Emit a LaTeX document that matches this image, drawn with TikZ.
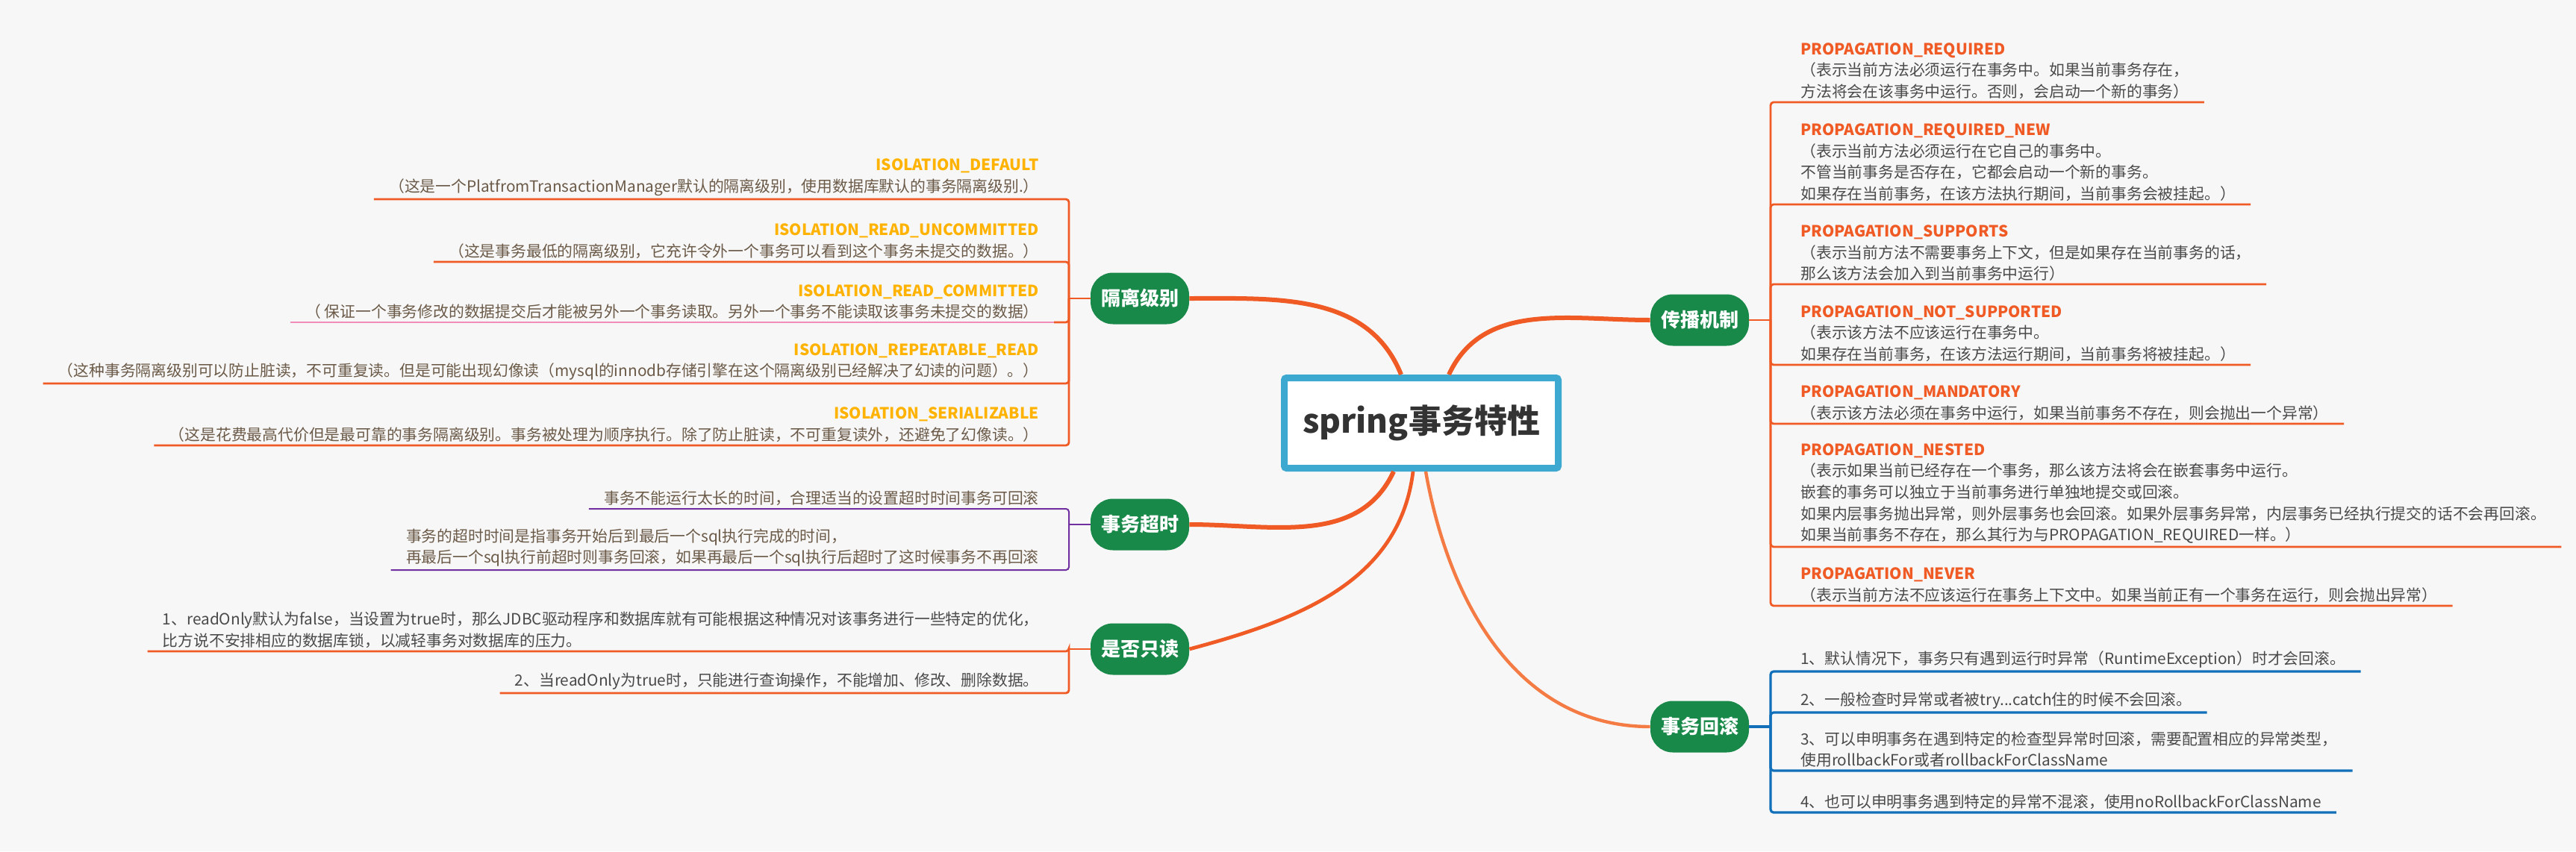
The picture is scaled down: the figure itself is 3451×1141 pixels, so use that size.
\documentclass[tikz,border=0pt]{standalone}
\usepackage{fontspec}
\setmainfont{Noto Sans CJK SC}
\definecolor{bg}{HTML}{F7F7F7}
\definecolor{topicgreen}{HTML}{19894A}
\definecolor{rootblue}{HTML}{3DA9D1}
\definecolor{branchorange}{HTML}{F05A24}
\definecolor{lightorange}{HTML}{F47C44}
\definecolor{isogold}{HTML}{FFB300}
\definecolor{notebrown}{HTML}{6B5A48}
\definecolor{notegray}{HTML}{4A4A4A}
\definecolor{linepurple}{HTML}{7030A0}
\definecolor{linepink}{HTML}{F28CB8}
\definecolor{lineblue}{HTML}{1170B9}
\newcommand{\isotitle}[1]{\textcolor{isogold}{\bfseries #1}}
\newcommand{\proptitle}[1]{\textcolor{branchorange}{\bfseries #1}}
\tikzset{
  root/.style={draw=rootblue,line width=4.5pt,fill=white,rounded corners=1.5pt,
    minimum width=183.5pt,minimum height=60.5pt,
    font=\fontsize{22}{26}\selectfont\bfseries,text=black!80},
  topic/.style={fill=topicgreen,rounded corners=15pt,minimum width=66pt,
    minimum height=34.5pt,text=white,font=\fontsize{13}{15}\selectfont\bfseries},
  leftnote/.style={anchor=south east,align=right,inner xsep=10pt,inner ysep=2pt,
    font=\fontsize{10.4}{14.3}\selectfont,text=notebrown},
  leftblock/.style={leftnote,align=left},
  rightnote/.style={anchor=south west,align=left,inner xsep=10pt,inner ysep=2pt,
    font=\fontsize{10.4}{14.3}\selectfont,text=notegray},
  mainline/.style={draw=branchorange,line width=3pt},
  isoline/.style={draw=branchorange,line width=1.4pt,rounded corners=2pt},
  pinkline/.style={draw=linepink,line width=1pt},
  purpleline/.style={draw=linepurple,line width=1pt,rounded corners=2pt},
  propline/.style={draw=branchorange,line width=1.4pt,rounded corners=2pt},
  blueline/.style={draw=lineblue,line width=1.6pt,rounded corners=2pt}
}
\begin{document}
\begin{tikzpicture}[x=0.5pt,y=-0.5pt]
\fill[bg] (0,0) rectangle (3451,1141);
\useasboundingbox (0,0) rectangle (3451,1141);

% centre and main topics
\node (root) [root] at (1904,567) {spring事务特性};
\node (iso) [topic] at (1527,400) {隔离级别};
\node (tout) [topic] at (1527,703) {事务超时};
\node (ro) [topic] at (1527,870) {是否只读};
\node (prop) [topic] at (2277,429) {传播机制};
\node (roll) [topic] at (2277,974) {事务回滚};

\draw [mainline] (iso.east) to [out=0,in=112] ([xshift=-13.5pt]root.north);
\draw [mainline] ([xshift=18.5pt]root.north) to [out=65,in=180] (prop.west);
\draw [mainline] ([xshift=-18.5pt]root.south) to [out=-115,in=0] (tout.east);
\draw [mainline,line width=2.4pt] ([xshift=-5.5pt]root.south) to [out=-97,in=15] (ro.east);
\draw [mainline,draw=lightorange,line width=2.2pt] ([xshift=3pt]root.south) to [out=-80,in=180] (roll.west);

% isolation levels
\coordinate (isoJ) at (1432,400);
\node (i1) [leftnote] at (1412,267) {\isotitle{ISOLATION\_DEFAULT}\\（这是一个PlatfromTransactionManager默认的隔离级别，使用数据库默认的事务隔离级别.）};
\node (i2) [leftnote] at (1412,351) {\isotitle{ISOLATION\_READ\_UNCOMMITTED}\\（这是事务最低的隔离级别，它充许令外一个事务可以看到这个事务未提交的数据。）};
\node (i3) [leftnote] at (1412,432) {\isotitle{ISOLATION\_READ\_COMMITTED}\\（ 保证一个事务修改的数据提交后才能被另外一个事务读取。另外一个事务不能读取该事务未提交的数据）};
\node (i4) [leftnote] at (1412,514) {\isotitle{ISOLATION\_REPEATABLE\_READ}\\（这种事务隔离级别可以防止脏读，不可重复读。但是可能出现幻像读（mysql的innodb存储引擎在这个隔离级别已经解决了幻读的问题）。）};
\node (i5) [leftnote] at (1412,597) {\isotitle{ISOLATION\_SERIALIZABLE}\\（这是花费最高代价但是最可靠的事务隔离级别。事务被处理为顺序执行。除了防止脏读，不可重复读外，还避免了幻像读。）};
\draw [isoline] (iso.west) -- (isoJ);
\foreach \n in {i1,i2,i4,i5}
  \draw [isoline] (isoJ) |- (\n.south west);
\draw [isoline] (isoJ) |- (i3.south east);
\draw [pinkline] (i3.south east) -- (i3.south west);

% timeout
\coordinate (toutJ) at (1432,703);
\node (t1) [leftblock] at (1412,682) {事务不能运行太长的时间，合理适当的设置超时时间事务可回滚};
\node (t2) [leftblock] at (1412,764) {事务的超时时间是指事务开始后到最后一个sql执行完成的时间，\\再最后一个sql执行前超时则事务回滚，如果再最后一个sql执行后超时了这时候事务不再回滚};
\draw [purpleline] (tout.west) -- (toutJ);
\foreach \n in {t1,t2}
  \draw [purpleline] (toutJ) |- (\n.south west);

% read only
\coordinate (roJ) at (1432,870);
\node (r1) [leftblock,text=notegray] at (1412,873) {1、readOnly默认为false，当设置为true时，那么JDBC驱动程序和数据库就有可能根据这种情况对该事务进行一些特定的优化，\\比方说不安排相应的数据库锁，以减轻事务对数据库的压力。};
\node (r2) [leftblock,text=notegray] at (1412,929) {2、当readOnly为true时，只能进行查询操作，不能增加、修改、删除数据。};
\draw [isoline] (ro.west) -- (roJ);
\foreach \n in {r1,r2}
  \draw [isoline] (roJ) |- (\n.south west);

% propagation
\coordinate (propJ) at (2372,429);
\node (p1) [rightnote] at (2392,137) {\proptitle{PROPAGATION\_REQUIRED}\\（表示当前方法必须运行在事务中。如果当前事务存在，\\方法将会在该事务中运行。否则，会启动一个新的事务）};
\node (p2) [rightnote] at (2392,274) {\proptitle{PROPAGATION\_REQUIRED\_NEW}\\（表示当前方法必须运行在它自己的事务中。\\不管当前事务是否存在，它都会启动一个新的事务。\\如果存在当前事务，在该方法执行期间，当前事务会被挂起。）};
\node (p3) [rightnote] at (2392,381) {\proptitle{PROPAGATION\_SUPPORTS}\\（表示当前方法不需要事务上下文，但是如果存在当前事务的话，\\那么该方法会加入到当前事务中运行）};
\node (p4) [rightnote] at (2392,489) {\proptitle{PROPAGATION\_NOT\_SUPPORTED}\\（表示该方法不应该运行在事务中。\\如果存在当前事务，在该方法运行期间，当前事务将被挂起。）};
\node (p5) [rightnote] at (2392,568) {\proptitle{PROPAGATION\_MANDATORY}\\（表示该方法必须在事务中运行，如果当前事务不存在，则会抛出一个异常）};
\node (p6) [rightnote] at (2392,733) {\proptitle{PROPAGATION\_NESTED}\\（表示如果当前已经存在一个事务，那么该方法将会在嵌套事务中运行。\\嵌套的事务可以独立于当前事务进行单独地提交或回滚。\\如果内层事务抛出异常，则外层事务也会回滚。如果外层事务异常，内层事务已经执行提交的话不会再回滚。\\如果当前事务不存在，那么其行为与PROPAGATION\_REQUIRED一样。）};
\node (p7) [rightnote] at (2392,812) {\proptitle{PROPAGATION\_NEVER}\\（表示当前方法不应该运行在事务上下文中。如果当前正有一个事务在运行，则会抛出异常）};
\draw [propline] (prop.east) -- (propJ);
\foreach \n in {p1,p2,p3,p4,p5,p6,p7}
  \draw [propline] (propJ) |- (\n.south east);

% rollback
\coordinate (rollJ) at (2372,974);
\node (b1) [rightnote] at (2392,900) {1、默认情况下，事务只有遇到运行时异常（RuntimeException）时才会回滚。};
\node (b2) [rightnote] at (2392,955) {2、一般检查时异常或者被try...catch住的时候不会回滚。};
\node (b3) [rightnote] at (2392,1033) {3、可以申明事务在遇到特定的检查型异常时回滚，需要配置相应的异常类型，\\使用rollbackFor或者rollbackForClassName};
\node (b4) [rightnote] at (2392,1089) {4、也可以申明事务遇到特定的异常不混滚，使用noRollbackForClassName};
\draw [blueline] (roll.east) -- (rollJ);
\foreach \n in {b1,b2,b3,b4}
  \draw [blueline] (rollJ) |- (\n.south east);
\end{tikzpicture}
\end{document}
